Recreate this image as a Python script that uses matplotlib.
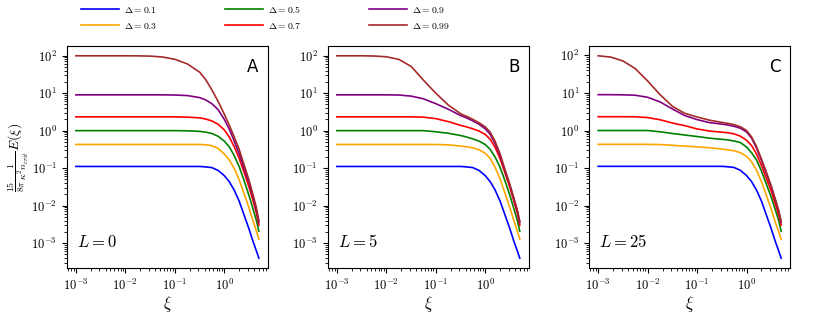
import numpy as np
import matplotlib
matplotlib.use("Agg")
import matplotlib.pyplot as plt
from matplotlib.ticker import FuncFormatter

plt.rcParams["mathtext.fontset"] = "cm"

# xi sample points
xi = [0.001, 0.0018, 0.0032, 0.0056, 0.01, 0.018, 0.032, 0.056, 0.1, 0.18,
      0.32, 0.42, 0.56, 0.75, 1.0, 1.26, 1.58, 2.0, 2.5, 3.16, 3.76, 4.47, 5.0]

deltas = ["0.1", "0.3", "0.5", "0.7", "0.9", "0.99"]
colors = ["blue", "orange", "green", "red", "purple", "brown"]
L_values = [0, 5, 25]
tags = ["A", "B", "C"]

# Delta = 0.1 looks the same in all three panels
blue_all = [0.111, 0.111, 0.111, 0.111, 0.111, 0.111, 0.111, 0.111, 0.111, 0.111,
            0.111, 0.108, 0.1035, 0.0871, 0.0631, 0.0437, 0.0263, 0.0132, 0.00575,
            0.0024, 0.00117, 0.000617, 0.000398]

# panel A, L = 0
orange_A = [0.428, 0.428, 0.428, 0.428, 0.428, 0.428, 0.428, 0.428, 0.428, 0.428,
            0.428, 0.419, 0.398, 0.335, 0.24, 0.166, 0.1, 0.049, 0.0214,
            0.0087, 0.00417, 0.00209, 0.00129]
green_A = [1.0, 1.0, 1.0, 1.0, 1.0, 1.0, 1.0, 1.0, 1.0, 0.989,
           0.955, 0.912, 0.841, 0.708, 0.525, 0.372, 0.219, 0.11, 0.0479,
           0.0186, 0.0087, 0.00398, 0.00209]
red_A = [2.33, 2.33, 2.33, 2.33, 2.33, 2.33, 2.33, 2.33, 2.33, 2.29,
         2.19, 2.04, 1.82, 1.48, 1.05, 0.676, 0.38, 0.182, 0.0794,
         0.0316, 0.0145, 0.0063, 0.00302]
purple_A = [9.0, 9.0, 9.0, 9.0, 9.0, 9.0, 9.0, 9.0, 8.91, 8.61,
            7.59, 6.61, 5.25, 3.63, 2.0, 1.1, 0.537, 0.24, 0.1,
            0.0407, 0.0182, 0.00759, 0.00355]
brown_A = [99, 99, 99, 99, 99, 98.5, 97, 92, 80, 60,
           36.0, 23.0, 12.3, 6.03, 2.75, 1.41, 0.692, 0.316, 0.126,
           0.0479, 0.0209, 0.0087, 0.00398]

# panel B, L = 5
orange_B = [0.428, 0.428, 0.428, 0.428, 0.428, 0.428, 0.428, 0.428, 0.428, 0.417,
            0.389, 0.372, 0.347, 0.309, 0.251, 0.182, 0.107, 0.0513, 0.0219,
            0.0087, 0.00417, 0.00209, 0.00129]
green_B = [1.0, 1.0, 1.0, 1.0, 1.0, 1.0, 1.0, 1.0, 0.933, 0.851,
           0.741, 0.676, 0.603, 0.525, 0.427, 0.316, 0.2, 0.105, 0.0468,
           0.0186, 0.0087, 0.00398, 0.00209]
red_B = [2.33, 2.33, 2.33, 2.33, 2.33, 2.33, 2.33, 2.29, 2.09, 1.74,
         1.38, 1.26, 1.12, 0.977, 0.794, 0.589, 0.363, 0.178, 0.0759,
         0.0302, 0.0138, 0.00617, 0.00302]
purple_B = [9.0, 9.0, 9.0, 9.0, 9.0, 8.91, 8.32, 7.08, 5.25, 3.72,
            2.51, 2.19, 1.82, 1.48, 1.12, 0.794, 0.457, 0.214, 0.0871,
            0.0347, 0.0158, 0.00708, 0.00355]
brown_B = [99, 99, 99, 97.7, 93.3, 79.4, 51.3, 22.4, 10.0, 4.79,
           2.82, 2.4, 2.0, 1.62, 1.26, 0.912, 0.525, 0.24, 0.0933,
           0.0363, 0.0166, 0.00759, 0.0038]

# panel C, L = 25
orange_C = [0.428, 0.428, 0.428, 0.428, 0.428, 0.422, 0.403, 0.385, 0.367, 0.347,
            0.32, 0.305, 0.288, 0.257, 0.204, 0.148, 0.0891, 0.0437, 0.0191,
            0.00794, 0.0038, 0.002, 0.00129]
green_C = [1.0, 1.0, 1.0, 1.0, 1.0, 0.923, 0.832, 0.759, 0.692, 0.624,
           0.582, 0.562, 0.525, 0.479, 0.363, 0.257, 0.166, 0.0832, 0.038,
           0.0166, 0.0083, 0.00398, 0.00209]
red_C = [2.33, 2.33, 2.33, 2.32, 2.21, 1.93, 1.58, 1.35, 1.1, 0.966,
         0.902, 0.871, 0.813, 0.708, 0.55, 0.398, 0.24, 0.117, 0.0537,
         0.024, 0.0117, 0.00562, 0.00302]
purple_C = [9.0, 9.0, 8.91, 8.71, 7.67, 5.75, 3.72, 2.51, 1.95, 1.62,
            1.48, 1.4, 1.29, 1.15, 0.912, 0.631, 0.347, 0.158, 0.0724,
            0.0309, 0.0148, 0.00692, 0.00355]
brown_C = [97.7, 90.2, 70.8, 44.7, 20.9, 8.91, 4.37, 2.88, 2.29, 1.88,
           1.64, 1.55, 1.43, 1.26, 1.0, 0.676, 0.38, 0.174, 0.0794,
           0.0331, 0.0158, 0.00741, 0.0038]

panels = [
    [blue_all, orange_A, green_A, red_A, purple_A, brown_A],
    [blue_all, orange_B, green_B, red_B, purple_B, brown_B],
    [blue_all, orange_C, green_C, red_C, purple_C, brown_C],
]

pow_fmt = FuncFormatter(lambda v, pos: r"$10^{%d}$" % int(round(np.log10(v))))

fig = plt.figure(figsize=(8.31, 3.15), dpi=100)
lefts = [0.0803, 0.3943, 0.7088]

for i in range(3):
    ax = fig.add_axes([lefts[i], 0.1483, 0.2422, 0.7067])
    for vals, col, d in zip(panels[i], colors, deltas):
        ax.loglog(xi, vals, color=col, lw=1.2, label=r"$\Delta = " + d + "$")
    ax.xaxis.set_major_formatter(pow_fmt)
    ax.yaxis.set_major_formatter(pow_fmt)
    ax.tick_params(labelsize=9)
    ax.text(0.925, 0.905, tags[i], transform=ax.transAxes, fontsize=12,
            ha="center", va="center")
    ax.text(0.05, 0.12, r"$L = %d$" % L_values[i], transform=ax.transAxes,
            fontsize=12, va="center")
    ax.set_xlabel(r"$\xi$", fontsize=12)
    ax.xaxis.set_label_coords(0.5, -0.115)
    if i == 0:
        ax.set_ylabel(r"$\frac{15}{8\pi}\frac{1}{\kappa^2 n_{crit}}E(\xi)$", fontsize=10)
        ax.yaxis.set_label_coords(-0.18, 0.5)
        handles, labels = ax.get_legend_handles_labels()

fig.legend(handles, labels, ncol=3, loc="upper left", bbox_to_anchor=(0.087, 1.016),
           frameon=False, fontsize=7, handlelength=3.9, handletextpad=0.5,
           columnspacing=7.0, labelspacing=0.6)

fig.savefig("out.png", dpi=100)
